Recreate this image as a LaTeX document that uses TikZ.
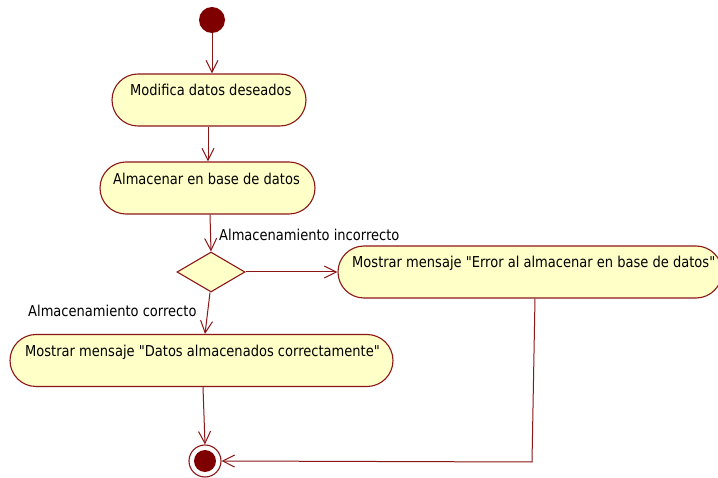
\documentclass[tikz,border=0pt]{standalone}
\usepackage{fontspec}
\setmainfont{DejaVu Sans}[FakeStretch=0.87, Ligatures=TeXOff]
\usetikzlibrary{arrows.meta,shapes.geometric}
\definecolor{umlline}{HTML}{8C1616}
\definecolor{umldot}{HTML}{7F0000}
\definecolor{umlfill}{HTML}{FFFFC8}
\tikzset{
  act/.style={draw=umlline, fill=umlfill, line width=1.1pt, rectangle,
    rounded corners=26pt, minimum height=52pt, inner sep=0pt},
  acttext/.style={anchor=base west, inner sep=0pt, font=\fontsize{15}{18}\selectfont},
  guard/.style={anchor=base west, inner sep=0pt, font=\fontsize{15}{18}\selectfont},
  flow/.style={draw=umlline, line width=1pt,
    -{Straight Barb[length=12pt,width=12pt,line width=1pt]}},
}
\begin{document}
\begin{tikzpicture}[x=1pt,y=-1pt]
  \useasboundingbox[fill=white] (0,0) rectangle (718,478);

  % initial and final nodes
  \node[circle, fill=umldot, minimum size=26pt, inner sep=0pt] (start) at (212,20) {};
  \node[circle, draw=umlline, line width=1.1pt, fill=white, minimum size=32pt, inner sep=0pt] (end) at (205,461) {};
  \node[circle, fill=umldot, minimum size=22pt, inner sep=0pt] (endin) at (205,461) {};

  % actions
  \node[act, minimum width=194pt] (mod) at (209,100) {};
  \node[acttext] (modt) at (130,96) {Modifica datos deseados};

  \node[act, minimum width=215pt] (alm) at (207.5,188) {};
  \node[acttext] (almt) at (113,185) {Almacenar en base de datos};

  \node[act, minimum width=384pt] (err) at (530,272) {};
  \node[acttext] (errt) at (352,268) {Mostrar mensaje "Error al almacenar en base de datos"};

  \node[act, minimum width=383pt] (dat) at (201.5,360.5) {};
  \node[acttext] (datt) at (25,357) {Mostrar mensaje "Datos almacenados correctamente"};

  % decision
  \node[diamond, draw=umlline, fill=umlfill, line width=1.1pt, inner sep=0pt,
        minimum width=68pt, minimum height=40pt] (dec) at (211,272) {};

  % guards
  \node[guard] (gin) at (219,241) {Almacenamiento incorrecto};
  \node[guard] (gok) at (28,317) {Almacenamiento correcto};

  % control flows
  \draw[flow] (start.south) -- (start.south |- mod.north);
  \draw[flow] ([xshift=-1pt]mod.south) -- ([xshift=-1pt]mod.south |- alm.north);
  \draw[flow] ([xshift=2.5pt]alm.south) -- (dec.north);
  \draw[flow] (dec.east) -- (err.west);
  \draw[flow] ([xshift=-1pt]dec.south) -- ([xshift=3.5pt]dat.north);
  \draw[flow] ([xshift=1.5pt]dat.south) -- (end.north);
  \coordinate (bend) at (532,462);
  \draw[flow] ([xshift=5pt]err.south) -- (bend) -- (end.east);
\end{tikzpicture}
\end{document}
